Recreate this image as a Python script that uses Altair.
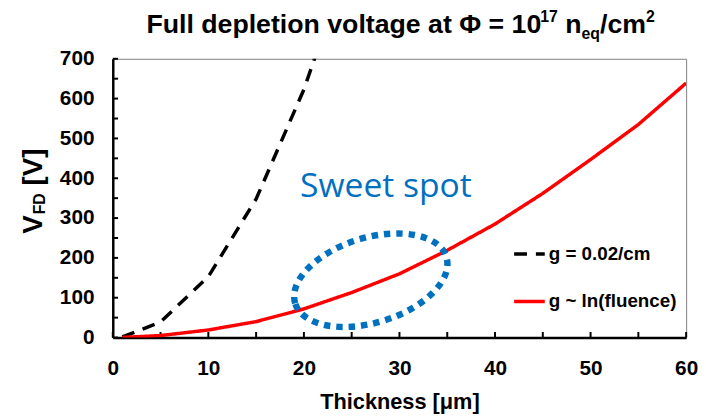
import altair as alt
import pandas as pd

# ---------------- data ----------------
thickness_const = [1, 5, 10, 15, 20, 25]
vfd_const = [1.5, 39, 153, 348, 623, 970]
thickness_ln = [1, 5, 10, 15, 20, 25, 30, 35, 40, 45, 50, 55, 60]
vfd_ln = [0.3, 5, 19, 40, 72, 113, 160, 219, 285, 362, 447, 535, 639]
series_names = ["g = 0.02/cm", "g ~ ln(fluence)"]
series_colors = ["#000000", "#FF0000"]
series_dash = [[13, 9], [1, 0]]

x_label_values = [0, 10, 20, 30, 40, 50, 60]
x_minor_ticks = list(range(0, 61, 5))
y_label_values = list(range(0, 701, 100))
y_minor_ticks = list(range(0, 701, 50))

sweet_label = ["Sweet spot"]
sweet_thickness = [19.6]
sweet_vfd = [353]
ellipse_thickness = [27.0]
ellipse_vfd = [144]

FONT = "Liberation Sans"
BLUE = "#0070C0"
W, H = 580, 282

# Arial-bold advance widths (1/1000 em) for composing rich text
ADV = {' ': 278, 'F': 611, 'u': 611, 'l': 278, 'd': 611, 'e': 556, 'p': 611,
       't': 333, 'i': 278, 'o': 611, 'n': 611, 'v': 556, 'a': 556, 'g': 611,
       'Φ': 778, '=': 584, '1': 556, '0': 556, '7': 556, 'q': 611, '/': 278,
       'c': 556, 'm': 889, '2': 556, 'V': 667, 'D': 722, '[': 333, ']': 333}


def tw(s, size):
    return sum(ADV.get(ch, 600) for ch in s) / 1000.0 * size


def txt(s, px, py, size, angle=0, color="black", weight="bold", font=FONT):
    kw = dict(text=s, font=font, fontSize=size, fontWeight=weight, align="left",
              baseline="alphabetic", color=color)
    if angle:
        kw["angle"] = angle
    return alt.Chart(pd.DataFrame({"k": [0]})).mark_text(**kw).encode(
        x=alt.value(px), y=alt.value(py))


df_lines = pd.concat([
    pd.DataFrame({"thickness": thickness_const, "vfd": vfd_const, "series": series_names[0]}),
    pd.DataFrame({"thickness": thickness_ln, "vfd": vfd_ln, "series": series_names[1]}),
])

legend = alt.Legend(orient="none", legendX=404, legendY=180, title=None,
                    labelFont=FONT, labelFontSize=19, labelFontWeight="bold",
                    labelColor="black", symbolType="stroke", symbolSize=961,
                    symbolStrokeWidth=3.5, rowPadding=20, labelOffset=2,
                    padding=0, offset=0)

xaxis = alt.Axis(values=x_label_values, title="Thickness [μm]", ticks=False, tickSize=0,
                 grid=False, domainColor="black", domainWidth=2.5,
                 labelFont=FONT, labelFontSize=21, labelFontWeight="bold",
                 labelColor="black", labelPadding=20, labelFlush=False,
                 titleFont=FONT, titleFontSize=22, titleFontWeight="bold",
                 titleColor="black", titlePadding=14)
yaxis = alt.Axis(values=y_label_values, title=None, ticks=False, tickSize=0,
                 grid=False, domainColor="black", domainWidth=2.5,
                 labelFont=FONT, labelFontSize=21, labelFontWeight="bold",
                 labelColor="black", labelPadding=19, labelFlush=False)

lines = alt.Chart(df_lines).mark_line(clip=True, strokeWidth=3.5).encode(
    x=alt.X("thickness:Q", scale=alt.Scale(domain=[0, 60], nice=False), axis=xaxis),
    y=alt.Y("vfd:Q", scale=alt.Scale(domain=[0, 700], nice=False), axis=yaxis),
    color=alt.Color("series:N", scale=alt.Scale(domain=series_names, range=series_colors),
                    legend=legend),
    strokeDash=alt.StrokeDash("series:N", scale=alt.Scale(domain=series_names, range=series_dash),
                              legend=legend),
)

# inward tick marks (about 6 px long) through the shared scales
df_yt = pd.DataFrame({"vfd": y_minor_ticks, "t0": 0.0, "t1": 0.55})
df_xt = pd.DataFrame({"thickness": x_minor_ticks, "v0": 0.0, "v1": 14.0})
yticks = alt.Chart(df_yt).mark_rule(color="black", strokeWidth=2, opacity=1).encode(
    y=alt.Y("vfd:Q"), x=alt.X("t0:Q"), x2="t1")
xticks = alt.Chart(df_xt).mark_rule(color="black", strokeWidth=2, opacity=1).encode(
    x=alt.X("thickness:Q"), y=alt.Y("v0:Q"), y2="v1")

ELLIPSE = "M -1 0 A 1 0.537 0 1 1 1 0 A 1 0.537 0 1 1 -1 0 Z"
ellipse = alt.Chart(pd.DataFrame({"thickness": ellipse_thickness, "vfd": ellipse_vfd})).mark_point(
    shape=ELLIPSE, filled=False, color=BLUE, stroke=BLUE, strokeWidth=6.5,
    strokeDash=[6.5, 6], size=25600, angle=343, opacity=1).encode(
    x="thickness:Q", y="vfd:Q")

sweet = alt.Chart(pd.DataFrame({"thickness": sweet_thickness, "vfd": sweet_vfd,
                                "label": sweet_label})).mark_text(
    font="Open Sans", fontSize=34, align="left", baseline="alphabetic", color=BLUE).encode(
    x="thickness:Q", y="vfd:Q", text="label:N")

# ---- title with super/subscripts ----
title_layers = []
tx, ty = 34, -26
big, small = 27, 16
for s, size, shift in [("Full depletion voltage at Φ = 10", big, 0), ("17", small, -11)]:
    title_layers.append(txt(s, tx, ty + shift, size))
    tx += tw(s, size)
tx += tw(" ", big)
for s, size, shift in [("n", big, 0), ("eq", small, 6), ("/cm", big, 0), ("2", small, -11)]:
    title_layers.append(txt(s, tx, ty + shift, size))
    tx += tw(s, size)

# ---- y-axis title V_FD [V], rotated ----
yt_layers = []
bx, by = -72, 177
yt_layers.append(txt("V", bx, by, 28, angle=270))
by2 = by - tw("V", 28) - 1
yt_layers.append(txt("FD", bx + 3, by2, 16, angle=270))
by3 = by2 - tw("FD", 16) - tw(" ", 28)
yt_layers.append(txt("[V]", bx, by3, 28, angle=270))

chart = alt.layer(xticks, yticks, lines, ellipse, sweet, *title_layers, *yt_layers).properties(
    width=W, height=H, autosize="none",
    padding={"left": 106, "top": 49, "right": 12, "bottom": 77},
).configure_view(stroke="#808080", strokeWidth=1)

chart.save("out.html", embed_options={"renderer": "svg", "actions": False})
